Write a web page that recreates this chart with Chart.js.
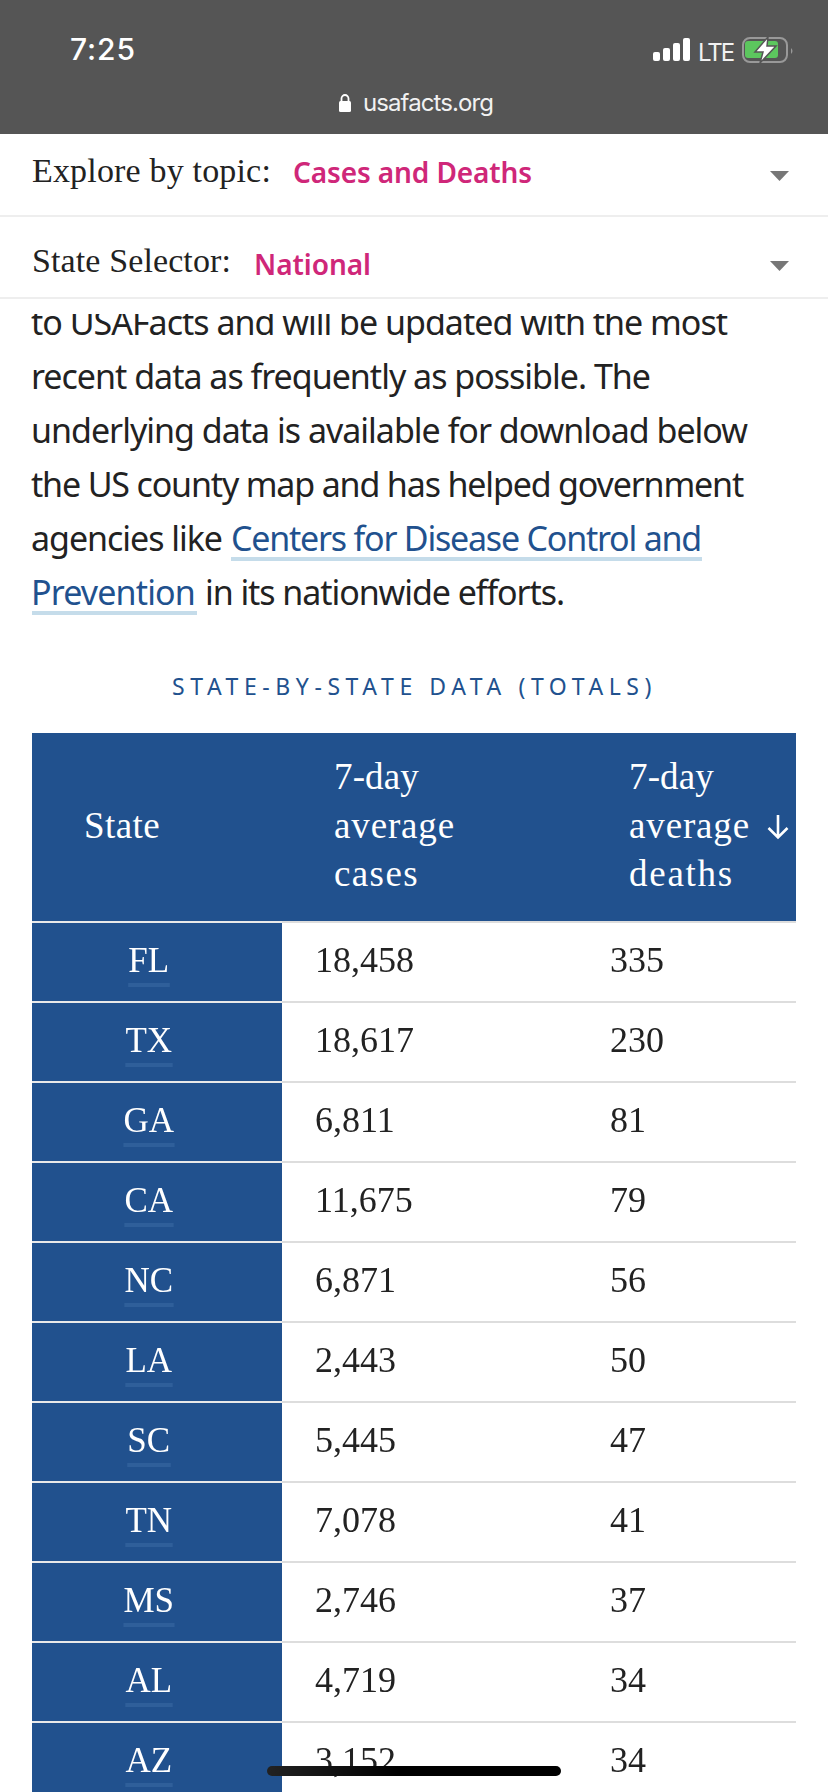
<!DOCTYPE html>
<html>
<head>
<meta charset="utf-8">
<title>State-by-state data</title>
<script src="https://cdn.jsdelivr.net/npm/chart.js@4/dist/chart.umd.min.js"></script>
<style>
  html, body { margin: 0; padding: 0; background: #fff; }
  body { width: 828px; height: 1792px; overflow: hidden; position: relative; }
  .box { position: absolute; }
  .t { position: absolute; white-space: nowrap; line-height: 1; }
  canvas { position: absolute; left: 0; top: 921px; }
  svg { position: absolute; overflow: visible; }
</style>
</head>
<body>
<div id="page"></div>
<canvas id="tableChart" width="828" height="882"></canvas>
<div class="box" style="left:267px;top:1766px;width:294px;height:10px;border-radius:5px;background:linear-gradient(90deg,#222,#000 45%)"></div>

<script>
// values
const states = ['FL', 'TX', 'GA', 'CA', 'NC', 'LA', 'SC', 'TN', 'MS', 'AL', 'AZ'];
const cases = [18458, 18617, 6811, 11675, 6871, 2443, 5445, 7078, 2746, 4719, 3152];
const deaths = [335, 230, 81, 79, 56, 50, 47, 41, 37, 34, 34];
const columnLeft = [315, 610];

const BLUE = '#21518e';
const PINK = '#cf2779';
const INK = '#222';
const SERIF = '"Liberation Serif", serif';
const SANS = '"Noto Sans", sans-serif';

const page = document.getElementById('page');

function box(x, y, w, h, color) {
    const d = document.createElement('div');
    d.className = 'box';
    d.style.cssText = `left:${x}px;top:${y}px;width:${w}px;height:${h}px;background:${color}`;
    page.appendChild(d);
    return d;
}

// places text by left edge and baseline, letter spacing stretches it to the measured width
function text(str, x, baseline, width, font, color) {
    const s = document.createElement('span');
    s.className = 't';
    s.textContent = str;
    s.style.font = font;
    s.style.lineHeight = '1';
    s.style.color = color;
    s.style.left = x + 'px';
    s.style.top = '0px';
    const mark = document.createElement('i');
    mark.style.cssText = 'display:inline-block;width:0;height:0';
    s.appendChild(mark);
    page.appendChild(s);
    const off = mark.getBoundingClientRect().bottom - s.getBoundingClientRect().top;
    s.style.top = (baseline - off) + 'px';
    const natural = s.getBoundingClientRect().width;
    s.style.letterSpacing = ((width - natural) / str.length) + 'px';
    return s;
}

// paragraph first, the sticky selectors cover its top
const bodyFont = '34px ' + SANS;
text('to USAFacts and will be updated with the most', 31, 335, 696, bodyFont, INK);
text('recent data as frequently as possible. The', 31, 389, 619, bodyFont, INK);
text('underlying data is available for download below', 31, 443, 716, bodyFont, INK);
text('the US county map and has helped government', 31, 497, 712, bodyFont, INK);
text('agencies like', 31, 551, 191, bodyFont, INK);
text('Centers for Disease Control and', 231, 551, 470, bodyFont, BLUE);
text('Prevention', 31, 605, 164, bodyFont, BLUE);
text('in its nationwide efforts.', 205, 605, 359, bodyFont, INK);
box(231, 557, 471, 4, '#c5dcea');
box(32, 611, 165, 4, '#c5dcea');

// status bar
box(0, 0, 828, 134, '#555555');
box(0, 134, 828, 180, '#ffffff');
text('7:25', 70, 60, 66, '500 30px Inter, sans-serif', '#fff');
text('usafacts.org', 363, 111, 130, '24px Inter, sans-serif', '#f1f1f1');
text('LTE', 698, 61, 35, '24px Inter, sans-serif', '#f1f1f1');
const signalTops = [52, 48, 43, 38];
signalTops.forEach((top, i) => {
    const bar = box(653 + i * 10, top, 7, 61 - top, '#fff');
    bar.style.borderRadius = '2px';
});

const icons = document.createElementNS('http://www.w3.org/2000/svg', 'svg');
icons.setAttribute('width', '828');
icons.setAttribute('height', '134');
icons.style.cssText = 'left:0;top:0';
icons.innerHTML = `
  <rect x="743" y="38" width="44" height="24" rx="7" fill="none" stroke="#999" stroke-width="2"/>
  <rect x="745" y="41" width="33" height="17" rx="3" fill="#5cc65e"/>
  <path d="M791 48 Q794 51 791 54 Z" fill="#999"/>
  <path d="M768 37 L755 52 L763 52 L760 63 L776 46 L767 46 Z" fill="#fff" stroke="#555" stroke-width="1.5"/>
  <rect x="339" y="101" width="12" height="11" rx="1.5" fill="#fff"/>
  <path d="M341.5 102 V98.5 a3.5 3.5 0 0 1 7 0 V102" fill="none" stroke="#fff" stroke-width="1.8"/>`;
page.appendChild(icons);

// selectors
box(0, 215, 828, 2, '#eeeeee');
box(0, 297, 828, 2, '#eeeeee');
text('Explore by topic:', 32, 182, 239, '34px ' + SERIF, INK);
text('Cases and Deaths', 293, 183, 239, '600 28px ' + SANS, PINK);
text('State Selector:', 32, 272, 199, '34px ' + SERIF, INK);
text('National', 254, 275, 117, '600 28px ' + SANS, PINK);

const arrows = document.createElementNS('http://www.w3.org/2000/svg', 'svg');
arrows.setAttribute('width', '828');
arrows.setAttribute('height', '300');
arrows.style.cssText = 'left:0;top:0';
arrows.innerHTML = `
  <path d="M770 171 H789 L779.5 181 Z" fill="#777"/>
  <path d="M770 261 H789 L779.5 271 Z" fill="#777"/>`;
page.appendChild(arrows);

// table title and header row
text('STATE-BY-STATE DATA (TOTALS)', 172, 695, 485, '23px ' + SANS, BLUE);
box(32, 733, 764, 188, BLUE);
const headFont = '37px ' + SERIF;
text('State', 84, 838, 76, headFont, '#fff');
text('7-day', 334, 789, 85, headFont, '#fff');
text('average', 334, 838, 121, headFont, '#fff');
text('cases', 334, 886, 85, headFont, '#fff');
text('7-day', 629, 789, 85, headFont, '#fff');
text('average', 629, 838, 121, headFont, '#fff');
text('deaths', 629, 886, 105, headFont, '#fff');

const sortArrow = document.createElementNS('http://www.w3.org/2000/svg', 'svg');
sortArrow.setAttribute('width', '828');
sortArrow.setAttribute('height', '900');
sortArrow.style.cssText = 'left:0;top:0';
sortArrow.innerHTML = '<path d="M778 815 V837 M768.5 828 L778 837.5 L787.5 828" fill="none" stroke="#fff" stroke-width="2.6"/>';
page.appendChild(sortArrow);

// state column background, row separators and underlines
const stateColumn = {
    id: 'stateColumn',
    beforeDraw(chart) {
        const { ctx, scales: { y } } = chart;
        const rowH = y.height / states.length;
        ctx.save();
        ctx.fillStyle = BLUE;
        ctx.fillRect(32, y.top, y.right - 32, y.height);
        ctx.fillStyle = '#e9e9e9';
        states.forEach((s, i) => {
            ctx.fillRect(32, y.getPixelForValue(i) - rowH / 2 - 1, y.right - 32, 2);
        });
        ctx.fillStyle = '#2f5f9a';
        ctx.font = '34px ' + SERIF;
        states.forEach((s, i) => {
            const w = ctx.measureText(s).width;
            ctx.fillRect(149 - w / 2 - 1, y.getPixelForValue(i) + 21, w + 2, 4);
        });
        ctx.restore();
    }
};

// the numbers of each series sit in their own column, on the row of their bar
const cellText = {
    id: 'cellText',
    afterDatasetsDraw(chart) {
        const { ctx } = chart;
        ctx.save();
        ctx.font = '36px ' + SERIF;
        ctx.fillStyle = INK;
        ctx.textAlign = 'left';
        ctx.textBaseline = 'alphabetic';
        chart.data.datasets.forEach((ds, d) => {
            chart.getDatasetMeta(d).data.forEach((bar, i) => {
                ctx.fillText(ds.data[i].toLocaleString('en-US'), columnLeft[d], bar.y + 10);
            });
        });
        ctx.restore();
    }
};

new Chart(document.getElementById('tableChart'), {
    type: 'bar',
    data: {
        labels: states,
        datasets: [
            { label: '7-day average cases', data: cases, backgroundColor: 'transparent' },
            { label: '7-day average deaths', data: deaths, backgroundColor: 'transparent' }
        ]
    },
    options: {
        indexAxis: 'y',
        responsive: false,
        animation: false,
        layout: { padding: { left: 32, right: 32, top: 1, bottom: 1 } },
        plugins: { legend: { display: false }, tooltip: { enabled: false } },
        datasets: { bar: { grouped: false } },
        scales: {
            x: { display: false },
            y: {
                afterFit(scale) {
                    scale.width = 250;
                    scale.paddingTop = 0;
                    scale.paddingBottom = 0;
                },
                border: { display: false },
                grid: { color: '#dddddd', lineWidth: 2, drawTicks: false },
                ticks: {
                    color: '#fff',
                    font: { family: '"Liberation Serif", serif', size: 35 },
                    crossAlign: 'center',
                    padding: 108,
                    labelOffset: 1,
                    autoSkip: false
                }
            }
        }
    },
    plugins: [stateColumn, cellText]
});
</script>
</body>
</html>
